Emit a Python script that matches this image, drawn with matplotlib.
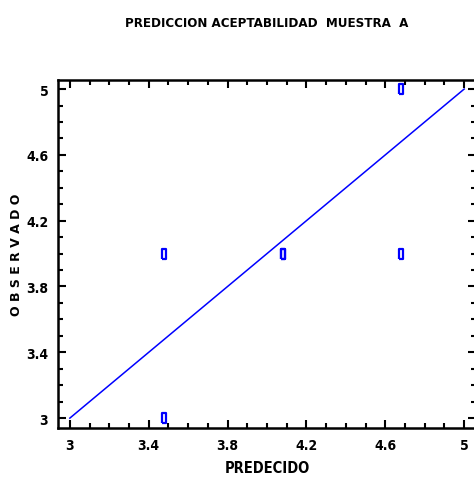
import matplotlib.pyplot as plt
from matplotlib.ticker import MultipleLocator

# Predicted vs observed values
predecido = [3.48, 3.48, 4.08, 4.08, 4.68, 4.68]
observado = [3.0, 4.0, 4.0, 4.0, 5.0, 4.0]
linea = [3, 5]
ticks = [3, 3.4, 3.8, 4.2, 4.6, 5]
tick_labels = ['3', '3.4', '3.8', '4.2', '4.6', '5']

cond = dict(family='DejaVu Sans', stretch='condensed', fontweight='bold')

fig = plt.figure(figsize=(4.74, 4.81), dpi=100)
ax = fig.add_axes([58 / 474, 1 - 429 / 481, 418 / 474, 348 / 481])

# tall open rectangle marker, like the original
rect = [(-0.5, -1), (0.5, -1), (0.5, 1), (-0.5, 1), (-0.5, -1)]

ax.plot(linea, linea, color='#0000ff', lw=1.1)
ax.plot(predecido, observado, linestyle='none', marker=rect, markersize=6.5,
        markerfacecolor='none', markeredgecolor='#0000ff', markeredgewidth=1.6)

ax.set_xlim(2.94, 5.06)
ax.set_ylim(2.94, 5.055)
ax.xaxis.set_minor_locator(MultipleLocator(0.1))
ax.yaxis.set_minor_locator(MultipleLocator(0.1))
ax.set_xticks(ticks)
ax.set_yticks(ticks)
ax.set_xticklabels(tick_labels, fontsize=10, **cond)
ax.set_yticklabels(tick_labels, fontsize=10, **cond)
ax.tick_params(which='both', direction='in', top=True, right=True, width=1.5)
ax.tick_params(which='major', length=6, pad=7)
ax.tick_params(which='minor', length=3.5)
for s in ax.spines.values():
    s.set_linewidth(1.8)

ax.set_xlabel('PREDECIDO', fontsize=10.5, labelpad=6, **cond)
fig.text(17 / 474, 1 - 255 / 481, 'O B S E R V A D O', family='DejaVu Sans',
         fontweight='bold', fontsize=9, rotation=90, ha='center', va='center')
fig.text(0.563, 0.952, 'PREDICCION ACEPTABILIDAD  MUESTRA  A', fontsize=9.5,
         ha='center', va='center', **cond)

fig.savefig('out.png', dpi=100)
